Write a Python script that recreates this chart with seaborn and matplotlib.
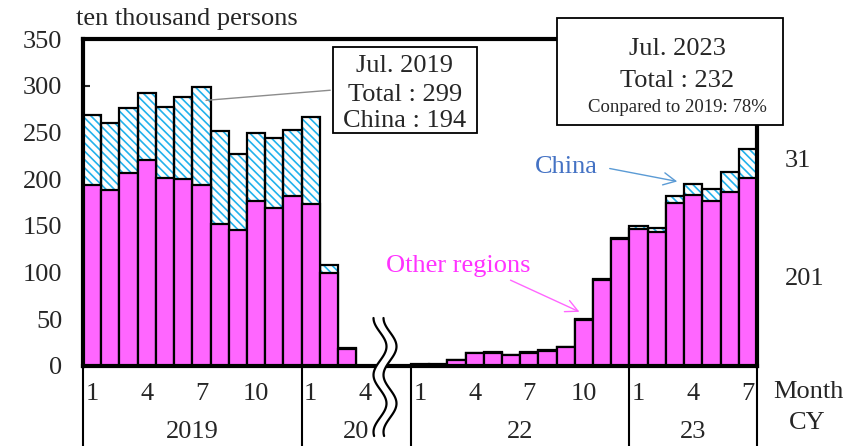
import numpy as np
import pandas as pd
import matplotlib
matplotlib.use("Agg")
import matplotlib.pyplot as plt
import seaborn as sns
from matplotlib.patches import Rectangle, Polygon
from matplotlib.lines import Line2D
from matplotlib.transforms import blended_transform_factory

# Visitor arrivals by month, in ten thousand persons
year_labels = ["2019", "20", "22", "23"]
months_2019 = list(range(1, 13))
months_2020 = [1, 2, 3, 4]
months_2022 = list(range(1, 13))
months_2023 = list(range(1, 8))

china_2019 = [75.4, 72.4, 69.1, 72.6, 75.6, 88.1, 105.0, 100.1, 81.9, 73.1, 75.1, 71.0]
other_2019 = [193.5, 188.0, 206.9, 220.1, 201.7, 199.9, 194.1, 151.9, 145.4, 176.6, 169.0, 181.6]

china_2020 = [92.5, 8.9, 1.0, 0.02]
other_2020 = [173.6, 99.6, 18.4, 0.27]

china_2022 = [0.2, 0.2, 0.3, 0.3, 0.3, 0.3, 0.5, 0.6, 0.7, 1.0, 1.2, 1.5]
other_2022 = [1.6, 1.5, 6.3, 13.7, 14.4, 11.7, 14.0, 16.4, 20.0, 48.9, 92.3, 135.5]

china_2023 = [3.1, 3.6, 7.6, 11.8, 12.8, 20.9, 31.0]
other_2023 = [146.6, 143.9, 174.2, 183.1, 177.1, 186.4, 201.0]

month_ticks = [1, 4, 7, 10]

MAGENTA = "#FF66FF"
HATCH_BLUE = "#22B2EC"
SERIF = ["Liberation Serif", "DejaVu Serif"]

# ---- assemble the table, with two empty slots for the axis break ----
groups = [
    ("2019", months_2019, china_2019, other_2019),
    ("2020", months_2020, china_2020, other_2020),
    ("2022", months_2022, china_2022, other_2022),
    ("2023", months_2023, china_2023, other_2023),
]
rows, order = [], []
for yr, months, china, other in groups:
    for m, c, o in zip(months, china, other):
        key = f"{yr}-{m:02d}"
        rows.append({"slot": key, "year": yr, "month": m,
                     "china": c, "other": o, "total": c + o})
        order.append(key)
    if yr == "2020":
        order += ["break-a", "break-b"]
df = pd.DataFrame(rows)
pos = {k: i for i, k in enumerate(order)}

sns.set_style("ticks")
plt.rcParams["font.family"] = SERIF
plt.rcParams["hatch.linewidth"] = 1.2

W, H = 857, 446
fig = plt.figure(figsize=(W / 100, H / 100), dpi=100)
ax = fig.add_axes([83 / W, 80 / H, 674 / W, 327 / H])

# hatched China segment (drawn as full total, covered below by other regions)
sns.barplot(data=df, x="slot", y="total", order=order, color="white",
            saturation=1, width=1.0, errorbar=None, hatch="\\\\\\\\",
            edgecolor=HATCH_BLUE, linewidth=0, ax=ax)
sns.barplot(data=df, x="slot", y="total", order=order, color="black",
            fill=False, width=1.0, errorbar=None, linewidth=1.6, ax=ax)
sns.barplot(data=df, x="slot", y="other", order=order, color=MAGENTA,
            saturation=1, width=1.0, errorbar=None, edgecolor="black",
            linewidth=1.6, ax=ax)

n = len(order)
ax.set_xlim(-0.5, n - 0.5)
ax.set_ylim(0, 350)
ax.set_yticks(range(0, 351, 50))
ax.set_xlabel("")
ax.set_ylabel("")
ax.tick_params(axis="x", bottom=False, labelbottom=False)
ax.tick_params(axis="y", direction="in", length=5, width=1.5,
               labelsize=19, pad=15)
for sp in ax.spines.values():
    sp.set_visible(True)
    sp.set_linewidth(3)
    sp.set_color("black")

# ---- month / year labels under the axis ----
xt = ax.get_xaxis_transform()
px = 1 / 327  # one pixel in axes height units
for _, r in df.iterrows():
    if r["month"] in month_ticks:
        ax.text(pos[r["slot"]], -34 * px, str(r["month"]), transform=xt,
                ha="center", va="baseline", fontsize=19, clip_on=False)

bounds = [-0.5, pos["2020-01"] - 0.5, pos["2022-01"] - 0.5,
          pos["2023-01"] - 0.5, n - 0.5]
for b in bounds:
    ax.add_line(Line2D([b, b], [0, -82 * px], transform=xt, color="black",
                       lw=1.5, clip_on=False))
for lab, a, b in zip(year_labels, bounds[:-1], bounds[1:]):
    ax.text((a + b) / 2, -72 * px, lab, transform=xt, ha="center",
            va="baseline", fontsize=19, clip_on=False)

fig.text(773 / W, 1 - 398 / H, "Month", ha="left", va="baseline", fontsize=19)
fig.text(807 / W, 1 - 429 / H, "CY", ha="center", va="baseline", fontsize=19)
fig.text(76 / W, 1 - 25 / H, "ten thousand persons", ha="left",
         va="baseline", fontsize=19)

# ---- values beside the last bar ----
last = df.iloc[-1]
side = blended_transform_factory(ax.transAxes, ax.transData)
ax.text(1.0415, 219, f"{last['china']:.0f}", transform=side, ha="left",
        va="center", fontsize=19, clip_on=False)
ax.text(1.0415, 93, f"{last['other']:.0f}", transform=side, ha="left",
        va="center", fontsize=19, clip_on=False)

# ---- callout boxes ----
def fig_xy(x, y):
    return (x / W, 1 - y / H)

box1 = Rectangle(fig_xy(333, 133), 144 / W, 86 / H, transform=fig.transFigure,
                 facecolor="white", edgecolor="black", lw=1.3, zorder=5)
fig.add_artist(box1)
for txt, yb in [("Jul. 2019", 72), ("Total : 299", 101),
                ("China : 194", 127)]:
    fig.text(405 / W, 1 - yb / H, txt, ha="center", va="baseline",
             fontsize=19, zorder=6)

jul19 = df[df["slot"] == "2019-07"].iloc[0]
ax.annotate("", xy=(pos["2019-07"] + 0.1, jul19["total"] - 15),
            xytext=fig_xy(333, 90), textcoords="figure fraction",
            arrowprops=dict(arrowstyle="-", color="#8C8C8C", lw=1.0),
            zorder=4)

box2 = Rectangle(fig_xy(557, 125), 226 / W, 107 / H, transform=fig.transFigure,
                 facecolor="white", edgecolor="black", lw=1.3, zorder=5)
fig.add_artist(box2)
fig.text(677 / W, 1 - 55 / H, "Jul. 2023", ha="center", va="baseline",
         fontsize=19, zorder=6)
fig.text(677 / W, 1 - 87 / H, "Total : 232", ha="center",
         va="baseline", fontsize=19, zorder=6)
fig.text(677 / W, 1 - 112 / H, "Conpared to 2019: 78%", ha="center",
         va="baseline", fontsize=13.5, zorder=6)

# ---- series captions with arrows ----
fig.text(535 / W, 1 - 173 / H, "China", ha="left", va="baseline",
         fontsize=19, color="#4472C4")
ax.annotate("", xy=fig_xy(680, 182), xycoords="figure fraction",
            xytext=fig_xy(607, 168), textcoords="figure fraction",
            arrowprops=dict(arrowstyle="->", color="#5B9BD5", lw=1.0,
                            mutation_scale=22))
fig.text(386 / W, 1 - 272 / H, "Other regions", ha="left", va="baseline",
         fontsize=19, color="#FF33FF")
ax.annotate("", xy=fig_xy(582, 313), xycoords="figure fraction",
            xytext=fig_xy(508, 279), textcoords="figure fraction",
            arrowprops=dict(arrowstyle="->", color="#FF66FF", lw=1.0,
                            mutation_scale=22))

# ---- axis break mark ----
ys = np.linspace(318, 436, 80)
x1 = 380 - 6.5 * np.cos(2 * np.pi * (ys - 318) / 57)
x2 = x1 + 10
gap = np.column_stack([np.r_[x1, x2[::-1]] / W, 1 - np.r_[ys, ys[::-1]] / H])
fig.add_artist(Polygon(gap, closed=True, transform=fig.transFigure,
                       facecolor="white", edgecolor="none", zorder=7))
for xs in (x1, x2):
    fig.add_artist(Line2D(xs / W, 1 - ys / H, transform=fig.transFigure,
                          color="black", lw=1.6, zorder=8))

fig.savefig("out.png", dpi=100)
